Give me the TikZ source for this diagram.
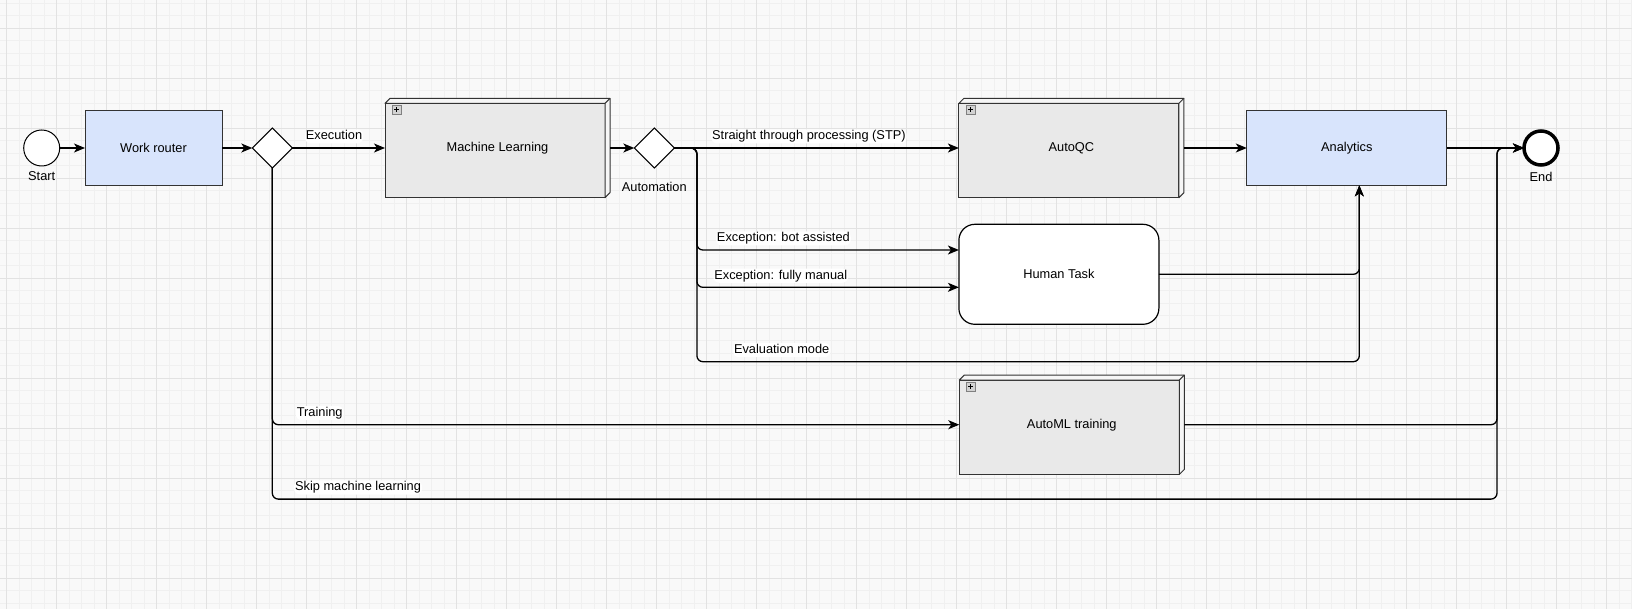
\documentclass[tikz,border=0pt]{standalone}
\usepackage{fontspec}
\setmainfont{Liberation Sans}
\usetikzlibrary{positioning, arrows.meta, shapes.geometric, backgrounds}
\definecolor{gridbg}{RGB}{249,249,249}
\definecolor{gridminor}{RGB}{240,240,240}
\definecolor{gridmajor}{RGB}{226,226,226}
\definecolor{taskblue}{RGB}{216,228,252}
\definecolor{subgrey}{RGB}{233,233,233}
\definecolor{subside}{RGB}{246,246,246}
\definecolor{edgeline}{RGB}{51,51,51}
\tikzset{arr/.style={-{Stealth[length=11pt, width=9pt, inset=3pt]}}}

% extruded sub-process box with the small [+] marker, drawn behind node #1
\newcommand{\subface}[1]{%
  \filldraw[draw=edgeline, line width=1pt, fill=subgrey]
    ([yshift=-5pt]#1.north west) rectangle ([xshift=-5pt]#1.south east);
  \filldraw[draw=edgeline, line width=1pt, fill=subside, line join=round]
    ([yshift=-5pt]#1.north west) -- ([xshift=5pt]#1.north west) -- (#1.north east)
    -- ([yshift=5pt]#1.south east) -- ([xshift=-5pt]#1.south east)
    -- ([xshift=-5pt,yshift=-5pt]#1.north east) -- cycle;
  \draw[draw=edgeline, line width=1pt] ([xshift=-5pt,yshift=-5pt]#1.north east) -- (#1.north east);
  \filldraw[draw=gray, fill=lightgray!70, line width=0.6pt]
    ([xshift=7pt,yshift=-7pt]#1.north west) rectangle ++(9,9);
  \draw[line width=0.9pt] ([xshift=9pt,yshift=-11.5pt]#1.north west) -- ++(5,0)
    ([xshift=11.5pt,yshift=-9pt]#1.north west) -- ++(0,5);
}

\begin{document}
\begin{tikzpicture}[x=1pt, y=-1pt,
      font=\fontsize{12.8}{15}\selectfont,
      every node/.style={outer sep=0pt},
      task/.style={draw=edgeline, line width=1pt, fill=taskblue, minimum width=137pt, minimum height=75pt},
      subproc/.style={minimum width=225pt, minimum height=99.4pt, inner sep=0pt},
      human/.style={draw=black, line width=1.2pt, fill=white, rounded corners=16pt, minimum width=200pt, minimum height=100pt},
      gate/.style={diamond, draw=black, line width=1pt, fill=white, minimum size=40pt, inner sep=0pt},
      event/.style={circle, draw=black, line width=1pt, fill=white, minimum size=36pt, inner sep=0pt},
      endevent/.style={circle, draw=black, line width=3.5pt, fill=white, minimum size=34pt, inner sep=0pt},
      evtext/.style={inner sep=1pt},
      lbl/.style={fill=white, inner sep=1pt, text height=9.5pt, text depth=2.7pt, above=4.5pt},
      flow/.style={draw=black, line width=1.3pt, arr, rounded corners=6pt},
  ]
      \useasboundingbox (0,0) rectangle (1632,609);

      % Background grid
      \begin{scope}[on background layer]
        \fill[gridbg] (0,0) rectangle (1632,609);
        \foreach \i in {0,...,130} \draw[gridminor, line width=0.8pt] ({6.7+12.5*\i},0) -- ++(0,609);
        \foreach \j in {0,...,48} \draw[gridminor, line width=0.8pt] (0,{3.3+12.5*\j}) -- ++(1632,0);
        \foreach \i in {0,...,32} \draw[gridmajor, line width=0.8pt] ({6.7+50*\i},0) -- ++(0,609);
        \foreach \j in {0,...,11} \draw[gridmajor, line width=0.8pt] (0,{28.3+50*\j}) -- ++(1632,0);
      \end{scope}

      % Main row
      \node[event, label={[evtext, yshift=-5pt]below:Start}] (start) at (41.7,148) {};
      \node[task, right=25.3pt of start] (router) {Work router};
      \node[gate, right=30.3pt of router] (split) {};
      \node[subproc, right=92.7pt of split] (ml) {Machine Learning};
      \node[gate, right=24.3pt of ml, label={[evtext, yshift=-13pt]below:Automation}] (auto) {};
      \node[subproc, right=284.6pt of auto] (autoqc) {AutoQC};
      \node[task, minimum width=200pt, minimum height=74.7pt, right=62.9pt of autoqc] (analytics) {Analytics};
      \node[endevent, right=77.2pt of analytics, label={[evtext, yshift=-6pt]below:End}] (finish) {};

      % Lower boxes
      \node[human, below right=26.6pt and 0pt of autoqc.south west] (human) {Human Task};
      \node[subproc, below right=50.7pt and 0.4pt of human.south west] (automl) {AutoML training};

      % Extruded faces of the sub-processes
      \begin{scope}[on background layer]
        \subface{ml} \subface{autoqc} \subface{automl}
      \end{scope}

      % Routing rails
      \coordinate (autorail) at ([xshift=22.6pt]auto.east);
      \coordinate (botin) at ([yshift=24.3pt]human.west);
      \coordinate (manin) at ([yshift=-13pt]human.west);
      \coordinate (evalrow) at ([yshift=-37.4pt]human.south);
      \coordinate (anin) at ([xshift=12.5pt]analytics.south);
      \coordinate (endrail) at ([xshift=-27pt]finish.west);
      \coordinate (skiprow) at ([yshift=-24.7pt]automl.south);

      % Main row flow
      \draw[flow] (start) -- (router);
      \draw[flow] (router) -- (split);
      \draw[flow] (split.east) -- node[lbl, pos=.45] {Execution} (ml.west);
      \draw[flow] (ml.east) -- (auto.west);
      \draw[flow] (auto.east) -- node[lbl, pos=.473] {Straight through processing (STP)} (autoqc.west);
      \draw[flow] (autoqc.east) -- (analytics.west);
      \draw[flow] (analytics.east) -- (finish.west);

      % Automation gateway -> Human Task, Analytics
      \draw[flow] (auto.east) -| (autorail |- botin) -- node[lbl, pos=.33] {Exception: bot assisted} (botin);
      \draw[flow] (auto.east) -| (autorail |- manin) -- node[lbl, pos=.32] {Exception: fully manual} (manin);
      \draw[flow] (auto.east) -| (autorail |- evalrow) -- node[lbl, pos=.128] {Evaluation mode} (anin |- evalrow) -- (anin);
      \draw[flow] (human.east) -| (anin);

      % Work router gateway -> AutoML training, End
      \draw[flow] (split.south) -- (split.south |- automl.west) -- node[lbl, pos=.069] {Training} (automl.west);
      \draw[flow] (split.south) -- (split.south |- skiprow) -- node[lbl, pos=.07] {Skip machine learning} (endrail |- skiprow)
        -- (endrail |- finish.west) -- (finish.west);
      \draw[flow] (automl.east) -| (endrail |- finish.west) -- (finish.west);

\end{tikzpicture}
\end{document}
